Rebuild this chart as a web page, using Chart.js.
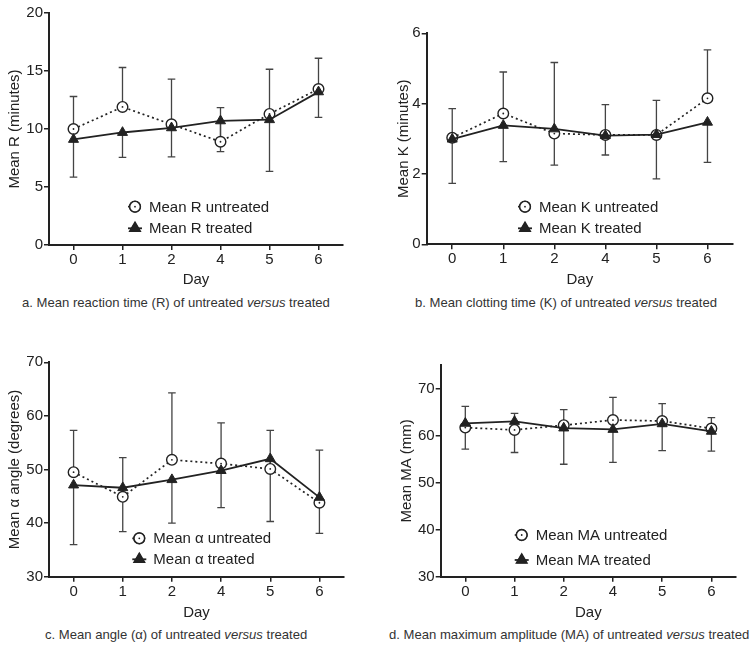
<!DOCTYPE html>
<html>
<head>
<meta charset="utf-8">
<script src="https://cdn.jsdelivr.net/npm/chart.js@4.4.1/dist/chart.umd.min.js"></script>
<style>
  html, body { margin: 0; padding: 0; background: #fff; }
  #wrap { position: relative; width: 755px; height: 651px; overflow: hidden; }
  canvas { position: absolute; }
  .cap { position: absolute; font-family: "Liberation Sans", Arial, sans-serif; font-size: 13.1px; line-height: 16px; color: #333; white-space: nowrap; }
</style>
</head>
<body>
<div id="wrap">
  <canvas id="cA" width="377" height="292" style="left:0px;top:0px"></canvas>
  <canvas id="cB" width="378" height="292" style="left:377px;top:0px"></canvas>
  <canvas id="cC" width="377" height="305" style="left:0px;top:320px"></canvas>
  <canvas id="cD" width="378" height="305" style="left:377px;top:320px"></canvas>
  <div class="cap" style="left:22px;top:295px">a. Mean reaction time (R) of untreated <i>versus</i> treated</div>
  <div class="cap" style="left:415px;top:295px">b. Mean clotting time (K) of untreated <i>versus</i> treated</div>
  <div class="cap" style="left:45px;top:627px">c. Mean angle (&alpha;) of untreated <i>versus</i> treated</div>
  <div class="cap" style="left:389px;top:627px">d. Mean maximum amplitude (MA) of untreated <i>versus</i> treated</div>
</div>
<script>
// ---------- data ----------
const days = ['0', '1', '2', '4', '5', '6'];

const rUntreated   = [10.0, 11.9, 10.4, 8.9, 11.3, 13.45];
const rUntreatedSD = [2.8, 3.4, 3.9, 2.95, 3.85, 2.65];
const rTreated     = [9.1, 9.7, 10.1, 10.7, 10.8, 13.2];
const rTreatedSD   = [3.25, 2.15, 2.5, 2.65, 4.45, 2.2];

const kUntreated   = [3.03, 3.72, 3.15, 3.11, 3.11, 4.15];
const kUntreatedSD = [0.83, 1.18, 2.02, 0.86, 0.98, 1.38];
const kTreated     = [2.99, 3.38, 3.28, 3.09, 3.12, 3.47];
const kTreatedSD   = [1.26, 1.03, 1.03, 0.55, 1.26, 1.14];

const aUntreated   = [49.5, 44.9, 51.8, 51.1, 50.1, 43.8];
const aUntreatedSD = [7.8, 7.3, 12.5, 7.6, 7.2, 9.8];
const aTreated     = [47.1, 46.6, 48.1, 49.8, 52.0, 44.8];
const aTreatedSD   = [11.1, 8.2, 8.1, 6.9, 11.7, 6.7];

const maUntreated   = [61.7, 61.2, 62.2, 63.3, 63.1, 61.5];
const maUntreatedSD = [4.5, 3.5, 3.3, 4.8, 3.7, 2.3];
const maTreated     = [62.6, 63.0, 61.6, 61.3, 62.5, 60.9];
const maTreatedSD   = [5.5, 6.6, 7.7, 7.0, 5.7, 4.2];

// ---------- styling ----------
const FONT = '"Liberation Sans", Arial, sans-serif';
const INK = '#222';
Chart.defaults.font.family = FONT;
Chart.defaults.font.size = 15;
Chart.defaults.color = INK;

const errorBars = {
  id: 'errorBars',
  beforeDatasetsDraw(chart) {
    const ctx = chart.ctx;
    const y = chart.scales.y;
    ctx.save();
    ctx.strokeStyle = '#444';
    ctx.lineWidth = 1.3;
    chart.data.datasets.forEach((ds, i) => {
      const meta = chart.getDatasetMeta(i);
      meta.data.forEach((pt, j) => {
        const v = ds.data[j];
        const end = v + ds.errDir * ds.errors[j];
        const y0 = y.getPixelForValue(v);
        const y1 = y.getPixelForValue(end);
        ctx.beginPath();
        ctx.moveTo(pt.x, y0); ctx.lineTo(pt.x, y1);
        ctx.moveTo(pt.x - 3.8, y1); ctx.lineTo(pt.x + 3.8, y1);
        ctx.stroke();
      });
    });
    ctx.restore();
  },
  // small centre dot inside the open circles, drawn right after that dataset
  afterDatasetDraw(chart, args) {
    const ds = chart.data.datasets[args.index];
    if (!ds.centerDot) return;
    const ctx = chart.ctx;
    ctx.save();
    ctx.fillStyle = INK;
    args.meta.data.forEach(pt => {
      ctx.beginPath(); ctx.arc(pt.x, pt.y, 0.9, 0, Math.PI * 2); ctx.fill();
    });
    ctx.restore();
  }
};

const inLegend = {
  id: 'inLegend',
  afterDraw(chart, args, opts) {
    const ctx = chart.ctx;
    ctx.save();
    chart.data.datasets.forEach((ds, i) => {
      const cx = opts.x, cy = opts.y + i * opts.dy;
      ctx.beginPath();
      ctx.strokeStyle = INK;
      ctx.lineWidth = ds.borderWidth;
      ctx.setLineDash(ds.borderDash || []);
      ctx.moveTo(cx - 7, cy); ctx.lineTo(cx + 7, cy);
      ctx.stroke();
      ctx.setLineDash([]);
      Chart.helpers.drawPoint(ctx, {pointStyle: ds.pointStyle, radius: ds.pointRadius, borderWidth: ds.pointBorderWidth, rotation: 0}, cx, cy);
      ctx.fillStyle = ds.pointBackgroundColor;
      ctx.strokeStyle = INK;
      ctx.lineWidth = ds.pointBorderWidth;
      ctx.fill(); ctx.stroke();
      if (ds.centerDot) {
        ctx.beginPath(); ctx.arc(cx, cy, 0.9, 0, Math.PI * 2);
        ctx.fillStyle = INK; ctx.fill();
      }
      ctx.fillStyle = INK;
      ctx.font = '15px ' + FONT;
      ctx.textBaseline = 'middle';
      ctx.textAlign = 'left';
      ctx.fillText(ds.label, cx + 14, cy + 1);
    });
    ctx.restore();
  }
};

function makeChart(id, p) {
  return new Chart(document.getElementById(id), {
    type: 'line',
    data: {
      labels: days,
      datasets: [
        {
          label: p.names[0], data: p.untreated, errors: p.untreatedSD, errDir: 1, centerDot: true,
          borderColor: INK, borderWidth: 1.7, borderDash: [2, 3],
          pointStyle: 'circle', pointRadius: 5.3, pointBorderWidth: 1.4,
          pointBackgroundColor: '#fff', pointBorderColor: INK, order: 1, tension: 0
        },
        {
          label: p.names[1], data: p.treated, errors: p.treatedSD, errDir: -1,
          borderColor: INK, backgroundColor: INK, borderWidth: 1.8,
          pointStyle: 'triangle', pointRadius: 5.8, pointBorderWidth: 1,
          pointBackgroundColor: INK, pointBorderColor: INK, order: 0, tension: 0
        }
      ]
    },
    options: {
      responsive: false, animation: false, devicePixelRatio: 1,
      layout: { padding: p.pad },
      plugins: { legend: { display: false }, tooltip: { enabled: false },
                 inLegend: p.legend },
      scales: {
        x: {
          type: 'category', offset: true,
          grid: { display: true, drawOnChartArea: false, offset: false, tickLength: 5, color: INK, lineWidth: 1.5 },
          border: { display: true, color: INK, width: 2 },
          ticks: { padding: 1, color: INK, maxRotation: 0, font: { size: 15 } },
          title: { display: true, text: 'Day', color: INK, font: { size: 15 }, padding: { top: 0, bottom: p.xTitlePad } },
          afterFit: s => { s.height = p.xH; }
        },
        y: {
          min: p.min, max: p.max,
          grid: { display: true, drawOnChartArea: false, tickLength: 5, color: INK, lineWidth: 1.5 },
          border: { display: true, color: INK, width: 2 },
          ticks: { stepSize: p.step, padding: 1, color: INK, font: { size: 15 } },
          afterBuildTicks: s => { s.ticks = s.ticks.filter(t => Math.abs((t.value - p.min) / p.step - Math.round((t.value - p.min) / p.step)) < 1e-6); },
          title: { display: true, text: p.yTitle, color: INK, font: { size: 15 }, padding: { top: p.yTitlePad, bottom: 0 } },
          afterFit: s => { s.width = p.yW; }
        }
      }
    },
    plugins: [errorBars, inLegend]
  });
}

makeChart('cA', {
  untreated: rUntreated, untreatedSD: rUntreatedSD, treated: rTreated, treatedSD: rTreatedSD,
  names: ['Mean R untreated', 'Mean R treated'], yTitle: 'Mean R (minutes)',
  min: 0, max: 20, step: 5,
  pad: { left: 0, top: 13, right: 34, bottom: 0 }, yW: 49, xH: 47, yTitlePad: 6, xTitlePad: 3.5,
  legend: { x: 135, y: 206.7, dy: 21.6 }
});
makeChart('cB', {
  untreated: kUntreated, untreatedSD: kUntreatedSD, treated: kTreated, treatedSD: kTreatedSD,
  names: ['Mean K untreated', 'Mean K treated'], yTitle: 'Mean K (minutes)',
  min: 0, max: 6, step: 2,
  pad: { left: 0, top: 33.3, right: 22, bottom: 0 }, yW: 49.7, xH: 47.7, yTitlePad: 17.5, xTitlePad: 3.5,
  legend: { x: 148, y: 206.7, dy: 21.6 }
});
makeChart('cC', {
  untreated: aUntreated, untreatedSD: aUntreatedSD, treated: aTreated, treatedSD: aTreatedSD,
  names: ['Mean \u03B1 untreated', 'Mean \u03B1 treated'], yTitle: 'Mean \u03B1 angle (degrees)',
  min: 30, max: 70, step: 10,
  pad: { left: 0, top: 42.3, right: 33, bottom: 0 }, yW: 49, xH: 48.3, yTitlePad: 6, xTitlePad: 3.3,
  legend: { x: 139.3, y: 218.3, dy: 21 }
});
makeChart('cD', {
  untreated: maUntreated, untreatedSD: maUntreatedSD, treated: maTreated, treatedSD: maTreatedSD,
  names: ['Mean MA untreated', 'Mean MA treated'], yTitle: 'Mean MA (mm)',
  min: 30, max: 75, step: 10,
  pad: { left: 0, top: 45, right: 19, bottom: 0 }, yW: 63.7, xH: 48.3, yTitlePad: 20.5, xTitlePad: 3.3,
  legend: { x: 144.7, y: 215, dy: 25 }
});
</script>
</body>
</html>
